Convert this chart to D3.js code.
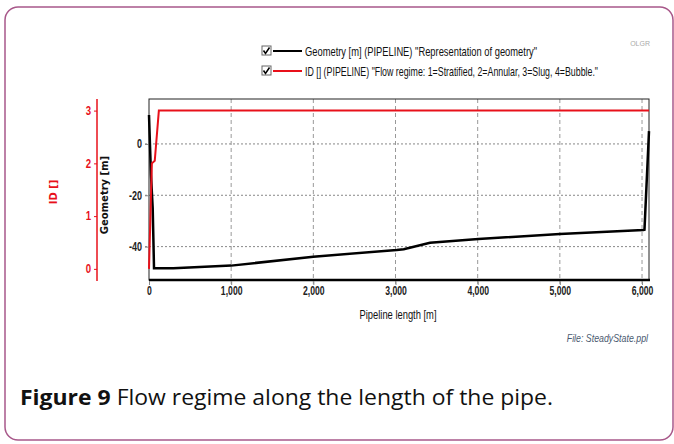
<!DOCTYPE html>
<html>
<head>
<meta charset="utf-8">
<script src="https://cdn.jsdelivr.net/npm/d3@7"></script>
<style>
  body { margin: 0; background: #fff; }
  svg { display: block; }
  .narrow { font-family: "Liberation Sans", Arial, sans-serif; }
</style>
</head>
<body>
<div id="chart"></div>
<script>
// pipeline geometry (elevation, m) along the length
var geomX = [0, 12, 24, 45, 53, 61, 296, 1000, 2000, 3014, 3100, 3420, 4008, 5000, 6016, 6030, 6085];
var geomY = [11.3, -0.4, -12, -25, -36.6, -48.4, -48.4, -47.4, -43.9, -41.3, -41, -38.5, -37.0, -35.1, -33.5, -33.4, 5];

// flow regime id along the length
var idX = [0, 35, 70, 120, 6085];
var idY = [0, 2, 2.05, 3, 3];

var xTicks = [0, 1000, 2000, 3000, 4000, 5000, 6000];
var geomTicks = [0, -20, -40];
var idTicks = [0, 1, 2, 3];

var legendItems = [
	{label: 'Geometry [m] (PIPELINE) "Representation of geometry"', color: "#000", w: 232},
	{label: 'ID [] (PIPELINE) "Flow regime: 1=Stratified, 2=Annular, 3=Slug, 4=Bubble."', color: "#e8101a", w: 293}
];

var width = 674, height = 444;
var pLeft = 149, pRight = 649, pTop = 99, pBottom = 280;

// squeeze text horizontally (the original uses a condensed face)
function squeeze(sel, k) {
	sel.each(function() {
		var w = this.getComputedTextLength();
		d3.select(this).attr("textLength", w * k).attr("lengthAdjust", "spacingAndGlyphs");
	});
}

var plain = function(d) { return String(d); };

var svg = d3.select("#chart").append("svg")
	.attr("width", width)
	.attr("height", height);

// outer rounded frame
svg.append("rect")
	.attr("x", 5).attr("y", 7)
	.attr("width", 668).attr("height", 433)
	.attr("rx", 13)
	.attr("fill", "none")
	.attr("stroke", "#a8588a")
	.attr("stroke-width", 1.5);

var x = d3.scaleLinear().domain([0, 6085]).range([pLeft, pRight]);
var yGeom = d3.scaleLinear().domain([-53, 17.5]).range([pBottom, pTop]);
var yId = d3.scaleLinear().domain([-0.23, 3.22]).range([281, pTop]);

// grid
svg.append("g").selectAll("line")
	.data(xTicks.slice(1))
	.enter().append("line")
		.attr("x1", function(d) { return x(d); })
		.attr("x2", function(d) { return x(d); })
		.attr("y1", pTop).attr("y2", pBottom + 4)
		.attr("stroke", "#999")
		.attr("stroke-dasharray", "4,3");

svg.append("g").selectAll("line")
	.data(geomTicks)
	.enter().append("line")
		.attr("x1", pLeft - 4).attr("x2", pRight)
		.attr("y1", function(d) { return yGeom(d); })
		.attr("y2", function(d) { return yGeom(d); })
		.attr("stroke", "#888")
		.attr("stroke-dasharray", "2,2");

// frame
svg.append("rect")
	.attr("x", pLeft).attr("y", pTop)
	.attr("width", pRight - pLeft).attr("height", pBottom - pTop)
	.attr("fill", "none")
	.attr("stroke", "#222")
	.attr("stroke-width", 1);
svg.append("line")
	.attr("x1", pLeft).attr("x2", pRight + 1)
	.attr("y1", pBottom).attr("y2", pBottom)
	.attr("stroke", "#000").attr("stroke-width", 2.5);

// x axis
var xAxis = svg.append("g")
	.attr("class", "narrow")
	.attr("transform", "translate(0," + (pBottom + 1) + ")")
	.call(d3.axisBottom(x).tickValues(xTicks).tickFormat(d3.format(",")).tickSize(4));
xAxis.select(".domain").remove();
xAxis.selectAll("line").attr("stroke", "#888");
xAxis.selectAll("text")
	.attr("font-size", 12).attr("font-weight", "bold").attr("fill", "#222")
	.attr("dy", "0.6em")
	.call(squeeze, 0.72);

svg.append("text")
	.attr("class", "narrow")
	.attr("x", 398).attr("y", 319)
	.attr("text-anchor", "middle")
	.attr("font-size", 13)
	.attr("fill", "#111")
	.text("Pipeline length [m]")
	.call(squeeze, 0.72);

// geometry axis
var gAxis = svg.append("g")
	.attr("class", "narrow")
	.attr("transform", "translate(" + pLeft + ",0)")
	.call(d3.axisLeft(yGeom).tickValues(geomTicks).tickFormat(plain).tickSize(4).tickPadding(3));
gAxis.select(".domain").remove();
gAxis.selectAll("line").attr("stroke", "#888");
gAxis.selectAll("text").attr("font-size", 12).attr("font-weight", "bold").attr("fill", "#222")
	.call(squeeze, 0.75);

svg.append("text")
	.attr("transform", "translate(108,195) rotate(-90)")
	.attr("text-anchor", "middle")
	.attr("font-family", "DejaVu Sans, Verdana, sans-serif")
	.attr("font-weight", "bold")
	.attr("font-size", 10)
	.attr("fill", "#111")
	.text("Geometry [m]");

// id axis
var iAxis = svg.append("g")
	.attr("class", "narrow")
	.attr("transform", "translate(97,0)")
	.call(d3.axisLeft(yId).tickValues(idTicks).tickFormat(plain).tickSize(3).tickPadding(3));
iAxis.select(".domain").remove();
iAxis.selectAll("line").attr("stroke", "#e8101a");
iAxis.selectAll("text").attr("font-size", 12).attr("font-weight", "bold").attr("fill", "#e8101a")
	.call(squeeze, 0.8);
svg.append("line")
	.attr("x1", 97).attr("x2", 97)
	.attr("y1", pTop).attr("y2", 281)
	.attr("stroke", "#e8101a").attr("stroke-width", 1.5);

svg.append("text")
	.attr("transform", "translate(57,192) rotate(-90)")
	.attr("text-anchor", "middle")
	.attr("font-family", "DejaVu Sans, Verdana, sans-serif")
	.attr("font-weight", "bold")
	.attr("font-size", 10)
	.attr("fill", "#e8101a")
	.text("ID []");

// series
var geomLine = d3.line()
	.x(function(d) { return x(d[0]); })
	.y(function(d) { return yGeom(d[1]); });
var idLine = d3.line()
	.x(function(d) { return x(d[0]); })
	.y(function(d) { return yId(d[1]); });

svg.append("path")
	.datum(d3.zip(geomX, geomY))
	.attr("d", geomLine)
	.attr("fill", "none")
	.attr("stroke", "#000")
	.attr("stroke-width", 2.5);

svg.append("path")
	.datum(d3.zip(idX, idY))
	.attr("d", idLine)
	.attr("fill", "none")
	.attr("stroke", "#e8101a")
	.attr("stroke-width", 2);

// legend
var legend = svg.append("g").attr("class", "narrow")
	.selectAll("g")
	.data(legendItems)
	.enter().append("g")
		.attr("transform", function(d, i) { return "translate(262," + (51 + i * 20) + ")"; });

legend.append("rect")
	.attr("x", 0).attr("y", -5)
	.attr("width", 9).attr("height", 9)
	.attr("fill", "#fff").attr("stroke", "#666");
legend.append("path")
	.attr("d", "M1.5,-0.5 L3.5,2.5 L7.5,-3.5")
	.attr("fill", "none").attr("stroke", "#000").attr("stroke-width", 1.5);
legend.append("line")
	.attr("x1", 11).attr("x2", 40)
	.attr("y1", 0).attr("y2", 0)
	.attr("stroke", function(d) { return d.color; })
	.attr("stroke-width", 2);
legend.append("text")
	.attr("x", 43).attr("y", 4.5)
	.attr("font-size", 13)
	.attr("fill", "#111")
	.attr("textLength", function(d) { return d.w; })
	.attr("lengthAdjust", "spacingAndGlyphs")
	.text(function(d) { return d.label; });

svg.append("text")
	.attr("class", "narrow")
	.attr("x", 650).attr("y", 46)
	.attr("text-anchor", "end")
	.attr("font-size", 7)
	.attr("fill", "#aaa")
	.text("OLGR");

svg.append("text")
	.attr("class", "narrow")
	.attr("x", 648).attr("y", 342)
	.attr("text-anchor", "end")
	.attr("font-size", 11)
	.attr("font-style", "italic")
	.attr("fill", "#4a5a70")
	.text("File: SteadyState.ppl")
	.call(squeeze, 0.8);

// caption
var cap = svg.append("text")
	.attr("x", 20).attr("y", 405)
	.attr("font-family", "Open Sans, Noto Sans, sans-serif")
	.attr("font-size", 22)
	.attr("fill", "#111")
	.attr("textLength", 533)
	.attr("lengthAdjust", "spacingAndGlyphs");
cap.append("tspan").attr("font-weight", "bold").text("Figure 9");
cap.append("tspan").text(" Flow regime along the length of the pipe.");
</script>
</body>
</html>
